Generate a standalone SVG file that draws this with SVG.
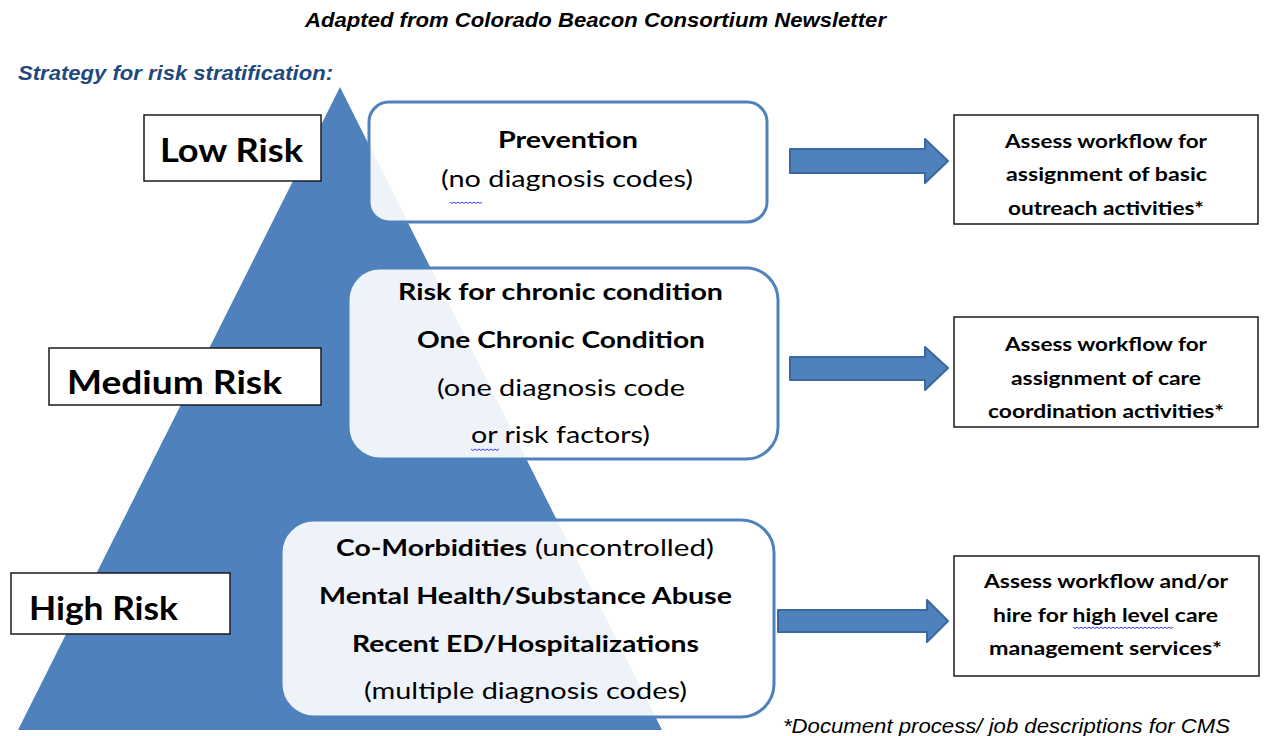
<svg xmlns="http://www.w3.org/2000/svg" width="1266" height="736" viewBox="0 0 1266 736">
<style>
.hdr{font-family:"Liberation Sans",Arial,sans-serif;font-style:italic;font-weight:bold;font-size:20px;fill:#000}
.strat{fill:#1F497D}
.foot{font-family:"Liberation Sans",Arial,sans-serif;font-style:italic;font-size:20px;fill:#000}
.lbl{font-family:Lato,"Liberation Sans",sans-serif;font-weight:bold;font-size:32px;fill:#000}
.bt{font-family:Lato,"Liberation Sans",sans-serif;font-size:23.5px;fill:#000}
.b{font-weight:bold}
.rt{font-family:Lato,"Liberation Sans",sans-serif;font-weight:bold;font-size:18.5px;fill:#000}
.lbox{fill:#fff;stroke:#1a1a1a;stroke-width:1.5}
.rbox{fill:#fff;stroke:#1a1a1a;stroke-width:1.5}
.mbox{fill:#fff;fill-opacity:0.9;stroke:#4F81BD;stroke-width:3}
.arr{fill:#4F81BD;stroke:#3A679E;stroke-width:2;stroke-linejoin:round}
.sq{fill:none;stroke:#3b3bff;stroke-width:1}
</style>
<rect width="1266" height="736" fill="#fff"/>
<text class="hdr" x="305" y="27" textLength="581" lengthAdjust="spacingAndGlyphs">Adapted from Colorado Beacon Consortium Newsletter</text>
<text class="hdr strat" x="18" y="80" textLength="315" lengthAdjust="spacingAndGlyphs">Strategy for risk stratification:</text>
<polygon id="pyramid" points="340,87 18,730 662,730" fill="#4F81BD"/>
<g id="low-risk">
<rect class="lbox" x="144" y="115" width="177" height="66"/>
<text class="lbl" x="160" y="162" textLength="143" lengthAdjust="spacingAndGlyphs">Low Risk</text>
</g>
<g id="medium-risk">
<rect class="lbox" x="49" y="348" width="272" height="57"/>
<text class="lbl" x="67" y="394" textLength="215" lengthAdjust="spacingAndGlyphs">Medium Risk</text>
</g>
<g id="high-risk">
<rect class="lbox" x="11" y="573" width="219" height="61"/>
<text class="lbl" x="29" y="620" textLength="149" lengthAdjust="spacingAndGlyphs">High Risk</text>
</g>
<g id="prevention">
<rect class="mbox" x="369" y="102" width="398" height="120" rx="20"/>
<text class="bt b" x="498" y="148" textLength="140" lengthAdjust="spacingAndGlyphs">Prevention</text>
<text class="bt" x="441" y="187" textLength="252" lengthAdjust="spacingAndGlyphs">(no diagnosis codes)</text>
<path class="sq" d="M450,202 l2,1.5 l2,-1.5 l2,1.5 l2,-1.5 l2,1.5 l2,-1.5 l2,1.5 l2,-1.5 l2,1.5 l2,-1.5 l2,1.5 l2,-1.5 l2,1.5 l2,-1.5 l2,1.5 l2,-1.5"/>
</g>
<g id="chronic">
<rect class="mbox" x="348" y="268" width="430" height="191" rx="32"/>
<text class="bt b" x="398" y="300" textLength="325" lengthAdjust="spacingAndGlyphs">Risk for chronic condition</text>
<text class="bt b" x="417" y="348" textLength="288" lengthAdjust="spacingAndGlyphs">One Chronic Condition</text>
<text class="bt" x="437" y="396" textLength="248" lengthAdjust="spacingAndGlyphs">(one diagnosis code</text>
<text class="bt" x="471" y="443" textLength="179" lengthAdjust="spacingAndGlyphs">or risk factors)</text>
<path class="sq" d="M471,449 l2,1.5 l2,-1.5 l2,1.5 l2,-1.5 l2,1.5 l2,-1.5 l2,1.5 l2,-1.5 l2,1.5 l2,-1.5 l2,1.5 l2,-1.5 l2,1.5 l2,-1.5"/>
</g>
<g id="comorbid">
<rect class="mbox" x="281" y="520" width="493" height="197" rx="33"/>
<text class="bt b" x="336" y="556" textLength="191" lengthAdjust="spacingAndGlyphs">Co-Morbidities</text>
<text class="bt" x="535" y="556" textLength="179" lengthAdjust="spacingAndGlyphs">(uncontrolled)</text>
<text class="bt b" x="319" y="604" textLength="413" lengthAdjust="spacingAndGlyphs">Mental Health/Substance Abuse</text>
<text class="bt b" x="352" y="652" textLength="347" lengthAdjust="spacingAndGlyphs">Recent ED/Hospitalizations</text>
<text class="bt" x="364" y="699" textLength="323" lengthAdjust="spacingAndGlyphs">(multiple diagnosis codes)</text>
</g>
<g id="connectors">
<path class="arr" d="M790,149 H925 V139 L948,161 L925,183 V173 H790 Z"/>
<path class="arr" d="M790,357 H925 V347 L948,368 L925,390 V380 H790 Z"/>
<path class="arr" d="M778,610 H927 V600 L948,621 L927,642 V632 H778 Z"/>
</g>
<g id="outreach">
<rect class="rbox" x="954" y="115" width="304" height="109"/>
<text class="rt" x="1005" y="148" textLength="202" lengthAdjust="spacingAndGlyphs">Assess workflow for</text>
<text class="rt" x="1006" y="181" textLength="201" lengthAdjust="spacingAndGlyphs">assignment of basic</text>
<text class="rt" x="1008" y="215" textLength="196" lengthAdjust="spacingAndGlyphs">outreach activities*</text>
</g>
<g id="coordination">
<rect class="rbox" x="954" y="317" width="304" height="110"/>
<text class="rt" x="1005" y="351" textLength="202" lengthAdjust="spacingAndGlyphs">Assess workflow for</text>
<text class="rt" x="1011" y="385" textLength="190" lengthAdjust="spacingAndGlyphs">assignment of care</text>
<text class="rt" x="988" y="418" textLength="236" lengthAdjust="spacingAndGlyphs">coordination activities*</text>
</g>
<g id="management">
<rect class="rbox" x="954" y="556" width="305" height="120"/>
<text class="rt" x="984" y="588" textLength="244" lengthAdjust="spacingAndGlyphs">Assess workflow and/or</text>
<text class="rt" x="993" y="622" textLength="225" lengthAdjust="spacingAndGlyphs">hire for high level care</text>
<text class="rt" x="989" y="655" textLength="233" lengthAdjust="spacingAndGlyphs">management services*</text>
<path class="sq" d="M1073,627 l2,1.5 l2,-1.5 l2,1.5 l2,-1.5 l2,1.5 l2,-1.5 l2,1.5 l2,-1.5 l2,1.5 l2,-1.5 l2,1.5 l2,-1.5 l2,1.5 l2,-1.5 l2,1.5 l2,-1.5 l2,1.5 l2,-1.5 l2,1.5 l2,-1.5 l2,1.5 l2,-1.5 l2,1.5 l2,-1.5 l2,1.5 l2,-1.5 l2,1.5 l2,-1.5 l2,1.5 l2,-1.5 l2,1.5 l2,-1.5 l2,1.5 l2,-1.5 l2,1.5 l2,-1.5 l2,1.5 l2,-1.5 l2,1.5 l2,-1.5 l2,1.5 l2,-1.5 l2,1.5 l2,-1.5 l2,1.5 l2,-1.5 l2,1.5 l2,-1.5 l2,1.5 l2,-1.5"/>
</g>
<text class="foot" x="783" y="733" textLength="447" lengthAdjust="spacingAndGlyphs">*Document process/ job descriptions for CMS</text>
</svg>
